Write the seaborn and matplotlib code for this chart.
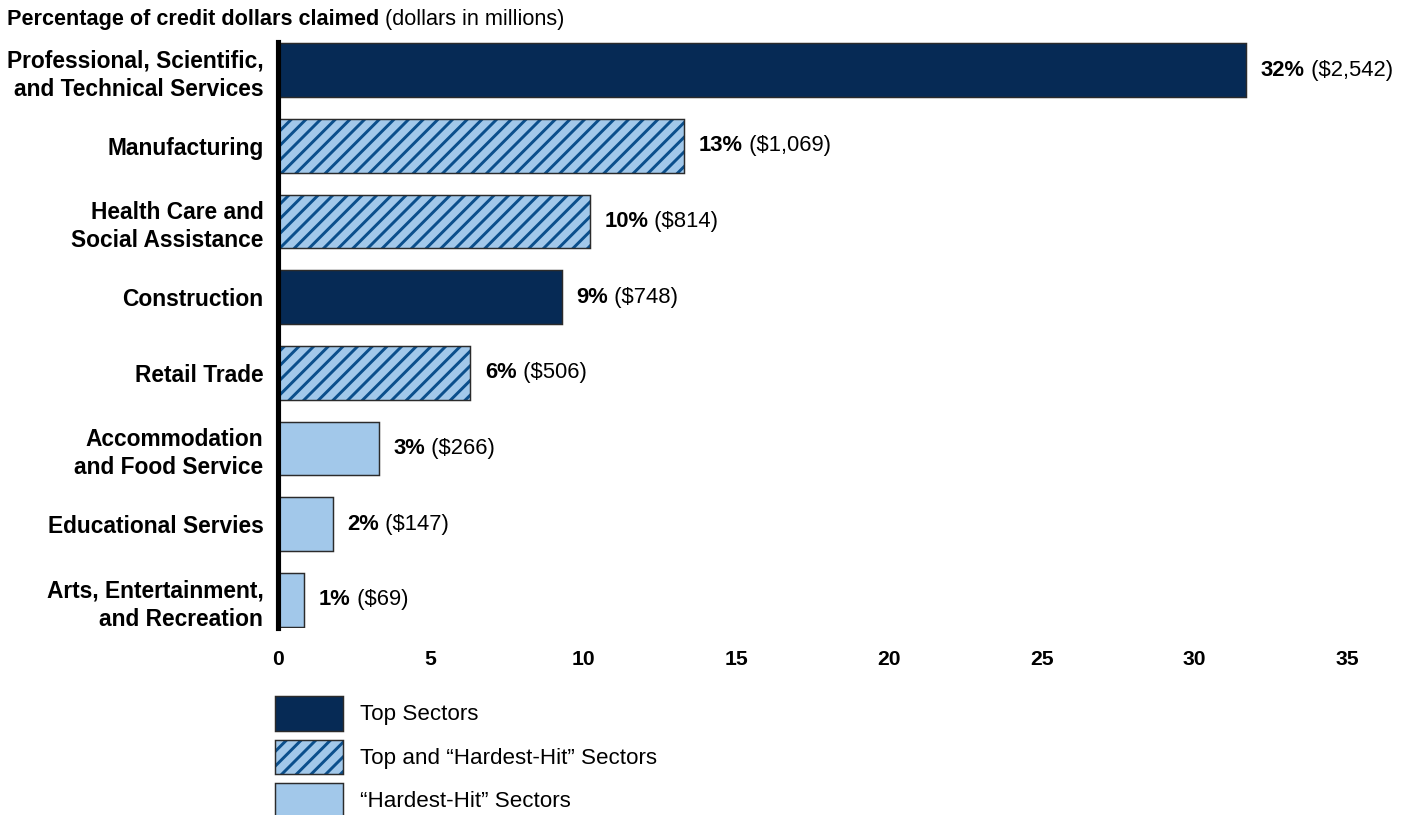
import matplotlib
matplotlib.use("Agg")
import matplotlib.pyplot as plt
from matplotlib.patches import Patch
from matplotlib.colors import to_rgba
import seaborn as sns
import pandas as pd

sectors = ["Professional, Scientific,\nand Technical Services", "Manufacturing",
           "Health Care and\nSocial Assistance", "Construction", "Retail Trade",
           "Accommodation\nand Food Service", "Educational Servies",
           "Arts, Entertainment,\nand Recreation"]
pct = [31.7, 13.3, 10.2, 9.3, 6.3, 3.3, 1.8, 0.86]
pct_labels = ["32%", "13%", "10%", "9%", "6%", "3%", "2%", "1%"]
dollar_labels = ["($2,542)", "($1,069)", "($814)", "($748)", "($506)", "($266)", "($147)", "($69)"]
group = ["top", "both", "both", "top", "both", "hard", "hard", "hard"]

dark = "#062a55"
light = "#a2c8ea"
hatch_blue = "#0b4f8c"
edge = "#2b2b2b"
fill = {"top": dark, "both": light, "hard": light}

df = pd.DataFrame({"sector": sectors, "pct": pct})

sns.set_style("white")
plt.rcParams["font.family"] = ["Liberation Sans", "DejaVu Sans"]
plt.rcParams["hatch.linewidth"] = 1.6
plt.rcParams["text.color"] = "black"
plt.rcParams["xtick.color"] = "black"
plt.rcParams["ytick.color"] = "black"

fig = plt.figure(figsize=(1412 / 132, 815 / 132), dpi=132)
ax = fig.add_axes([278 / 1412, 1 - 628 / 815, (1347 - 278) / 1412, 586 / 815])

sns.barplot(data=df, x="pct", y="sector", hue="sector", palette=[fill[g] for g in group],
            legend=False, width=0.71, edgecolor=edge, linewidth=0.8, ax=ax, orient="h",
            saturation=1)

for p, g in zip(ax.patches, group):
    if g == "both":
        p.set_hatch("///")
        p._hatch_color = to_rgba(hatch_blue)

ax.set_xlim(0, 35)
ax.set_ylim(7.37, -0.37)
ax.set_xlabel("")
ax.set_ylabel("")
ax.set_xticks([0, 5, 10, 15, 20, 25, 30, 35])
ax.tick_params(axis="x", length=0, pad=12, labelsize=11.5)
ax.tick_params(axis="y", length=0, pad=8, labelsize=12.4)
for t in ax.get_xticklabels() + ax.get_yticklabels():
    t.set_fontweight("bold")
for t in ax.get_yticklabels():
    t.set_multialignment("right")
    t.set_linespacing(1.3)

for s in ["top", "right", "bottom"]:
    ax.spines[s].set_visible(False)
ax.spines["left"].set_linewidth(2.8)
ax.spines["left"].set_color("black")

for i, (v, a, b) in enumerate(zip(pct, pct_labels, dollar_labels)):
    t1 = ax.annotate(a, xy=(v, i), xytext=(8, 0), textcoords="offset points",
                     va="center", ha="left", fontsize=12, fontweight="bold")
    ax.annotate(" " + b, xy=(1, 0.5), xycoords=t1, va="center", ha="left", fontsize=12)

t = fig.text(7 / 1412, 1 - 19 / 815, "Percentage of credit dollars claimed",
             fontsize=11.8, fontweight="bold", va="center", ha="left")
ax.annotate(" (dollars in millions)", xy=(1, 0.5), xycoords=t, va="center", ha="left",
            fontsize=11.8, annotation_clip=False)

h_top = Patch(facecolor=dark, edgecolor=edge, linewidth=0.8)
h_both = Patch(facecolor=light, edgecolor=edge, linewidth=0.8, hatch="///")
h_both._hatch_color = to_rgba(hatch_blue)
h_hard = Patch(facecolor=light, edgecolor=edge, linewidth=0.8)
fig.legend([h_top, h_both, h_hard],
           ["Top Sectors", "Top and \u201cHardest-Hit\u201d Sectors", "\u201cHardest-Hit\u201d Sectors"],
           loc="upper left", bbox_to_anchor=(275 / 1412, 1 - 696 / 815), frameon=False,
           fontsize=12.2, handlelength=3.05, handleheight=2.0, labelspacing=0.4,
           handletextpad=0.75, borderpad=0, borderaxespad=0)

fig.savefig("out.png", dpi=132)
